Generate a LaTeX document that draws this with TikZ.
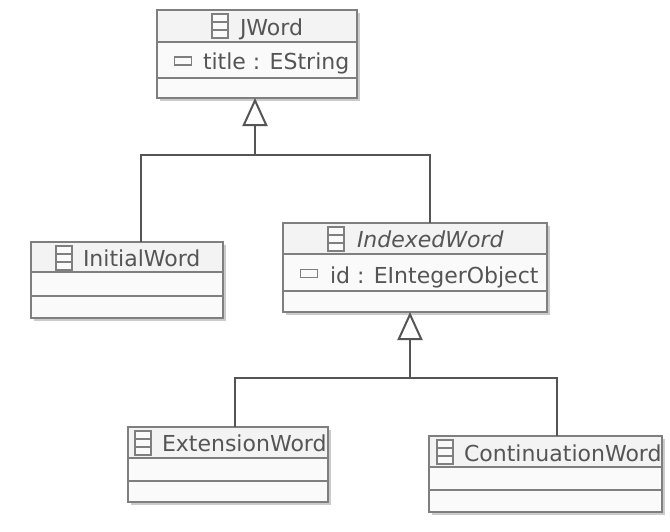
\documentclass[tikz,border=0pt]{standalone}
\usepackage{fontspec}
\setmainfont{DejaVu Sans}
\usetikzlibrary{arrows.meta,shadows}
\definecolor{umlline}{HTML}{7F7F7F}
\definecolor{umltext}{HTML}{555555}
\definecolor{umlhead}{HTML}{F3F3F3}
\definecolor{umlbody}{HTML}{FAFAFA}
\definecolor{umlconn}{HTML}{555555}
\tikzset{
  classbox/.style={draw=umlline,line width=2pt,fill=umlbody,inner sep=0pt,outer sep=0pt,anchor=north west,
    drop shadow={shadow xshift=2.5pt,shadow yshift=-2.5pt,fill=black!40,opacity=.5}},
  divider/.style={draw=umlline,line width=2pt},
  labeltext/.style={text=umltext,font=\fontsize{22}{24}\selectfont,inner sep=0pt,outer sep=0pt,anchor=base west},
  conn/.style={draw=umlconn,line width=2pt},
  gen/.style={conn,-{Triangle[open,length=28pt,width=25pt,line width=2pt]}},
  iconbox/.style={draw=umlline,line width=1.7pt,fill=umlbody,inner sep=0pt,outer sep=0pt,minimum width=16pt,minimum height=24pt},
  attrbox/.style={draw=umlline,line width=1.7pt,fill=umlbody,inner sep=0pt,outer sep=0pt,minimum width=17pt,minimum height=8pt},
}
% name, x1, y1, x2, y2, d1, d2
\newcommand{\umlclass}[7]{%
  \node[classbox,minimum width=#4pt-#2pt,minimum height=#5pt-#3pt] (#1) at (#2,#3) {};
  \fill[umlhead] (#2+1,#3+1) rectangle (#4-1,#6);
  \draw[divider] (#2,#6) -- (#4,#6);
  \draw[divider] (#2,#7) -- (#4,#7);
  \draw[draw=umlline,line width=2pt] (#2,#3) rectangle (#4,#5);
}
% name, centre x, centre y
\newcommand{\umlicon}[3]{%
  \node[iconbox] (#1) at (#2,#3) {};
  \draw[draw=umlline,line width=1.3pt] (#2-8,#3-4) -- (#2+8,#3-4) (#2-8,#3+4) -- (#2+8,#3+4);
}
\begin{document}
\begin{tikzpicture}[x=1pt,y=-1pt]
\useasboundingbox (0,0) rectangle (670,531);
\fill[white] (0,0) rectangle (670,531);

\umlclass{jword}{157}{10}{357}{98}{42}{78}
\umlclass{initial}{31}{242}{223}{318}{272}{296}
\umlclass{indexed}{283}{223}{547}{312}{254}{291}
\umlclass{extension}{128}{427}{328}{502}{458}{481}
\umlclass{continuation}{429}{436}{662}{512}{467}{490}

\umlicon{iconj}{220}{26}
\umlicon{iconi}{64}{258}
\umlicon{iconx}{336}{239}
\umlicon{icone}{143}{443}
\umlicon{iconc}{445}{452}
\node[attrbox] (attrj) at (183,61) {};
\node[attrbox] (attrx) at (309,273.5) {};

\node[labeltext] (tj) at (240,35) {JWord};
\node[labeltext] (ttitle) at (203,69) {title : EString};
\node[labeltext] (ti) at (83,266) {InitialWord};
\node[labeltext] (tx) at (357,247) {\itshape IndexedWord};
\node[labeltext] (tid) at (330,283) {id : EIntegerObject};
\node[labeltext] (te) at (162,451) {ExtensionWord};
\node[labeltext] (tc) at (464,461) {ContinuationWord};

\coordinate (bus1) at (255,155);
\coordinate (bus2) at (410,378);
\coordinate (i1) at (141,242);
\coordinate (x1) at (430,223);
\coordinate (e1) at (235,427);
\coordinate (c1) at (557,436);
\draw[gen] (bus1) -- (jword.south -| bus1);
\draw[conn] (i1) -- (i1 |- bus1) -- (bus1);
\draw[conn] (x1) -- (x1 |- bus1) -- (bus1);
\draw[gen] (bus2) -- (indexed.south -| bus2);
\draw[conn] (e1) -- (e1 |- bus2) -- (bus2);
\draw[conn] (c1) -- (c1 |- bus2) -- (bus2);
\end{tikzpicture}
\end{document}
